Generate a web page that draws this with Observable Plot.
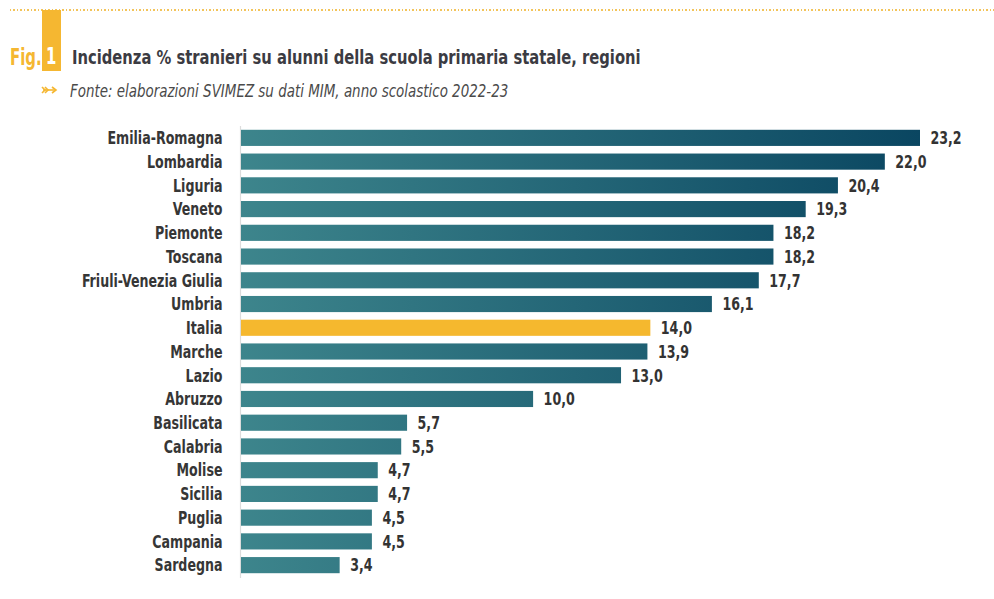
<!DOCTYPE html>
<html><head><meta charset="utf-8">
<script src="https://cdn.jsdelivr.net/npm/d3@7"></script>
<script src="https://cdn.jsdelivr.net/npm/@observablehq/plot@0.6"></script>
<style>
body{margin:0;background:#fff;width:994px;height:599px;overflow:hidden;font-family:"DejaVu Sans Condensed","DejaVu Sans",sans-serif;}
#header{position:relative;height:120px;}
.dots{position:absolute;left:10px;right:0;top:9px;height:2px;background-image:repeating-linear-gradient(to right,#f3c45a 0 1.5px,transparent 1.5px 3.5px);}
.sq{display:inline-block;transform-origin:left center;white-space:nowrap;}
.fig{position:absolute;left:10px;top:44px;font-size:23px;font-weight:bold;color:#f5b731;}
.fig .sq{transform:scaleX(0.72);}
.num{position:absolute;left:42px;top:10px;width:19px;height:61px;background:#f5b731;color:#fff;font-size:23px;font-weight:bold;text-align:center;line-height:23px;box-sizing:border-box;padding-top:35px;}
.num .sq{transform:scaleX(0.72);transform-origin:center;}
.title{position:absolute;left:72px;top:45px;font-size:20px;font-weight:bold;color:#3b3b42;}
.title .sq{transform:scaleX(0.82);}
.arrow{position:absolute;left:41px;top:85px;}
.sub{position:absolute;left:70px;top:80px;font-size:18px;font-style:italic;color:#4a4a4a;}
.sub .sq{transform:scaleX(0.83);}
#chart svg{display:block;}
</style></head><body>
<div id="header">
  <div class="dots"></div>
  <div class="fig"><span class="sq">Fig.</span></div>
  <div class="num"><span class="sq">1</span></div>
  <div class="title"><span class="sq">Incidenza % stranieri su alunni della scuola primaria statale, regioni</span></div>
  <svg class="arrow" width="18" height="10" viewBox="0 0 18 10"><g stroke="#f5b731" stroke-width="1.6" fill="none"><path d="M2 5H15"/><path d="M11 2L15 5L11 8"/><path d="M1 2L4 5L1 8"/><path d="M4 2L7 5L4 8"/></g></svg>
  <div class="sub"><span class="sq">Fonte: elaborazioni SVIMEZ su dati MIM, anno scolastico 2022-23</span></div>
</div>
<div id="chart"></div>
<script>
const regions = ["Emilia-Romagna","Lombardia","Liguria","Veneto","Piemonte","Toscana","Friuli-Venezia Giulia","Umbria","Italia","Marche","Lazio","Abruzzo","Basilicata","Calabria","Molise","Sicilia","Puglia","Campania","Sardegna"];
const values = [23.2,22.0,20.4,19.3,18.2,18.2,17.7,16.1,14.0,13.9,13.0,10.0,5.7,5.5,4.7,4.7,4.5,4.5,3.4];
const highlight = "Italia";

const data = regions.map((r,i)=>({region:r, value:values[i]}));
const fmt = v => d3.format(".1f")(v).replace(".", ",");
const font = '"DejaVu Sans Condensed","DejaVu Sans",sans-serif';

const gradientDefs = (index, scales) => {
  const x0 = scales.x(0), x1 = scales.x(d3.max(values));
  const defs = d3.create("svg:defs");
  const g = defs.append("linearGradient").attr("id","barGrad").attr("gradientUnits","userSpaceOnUse")
    .attr("x1",x0).attr("x2",x1).attr("y1",0).attr("y2",0);
  g.append("stop").attr("offset","0%").attr("stop-color","#3d858c");
  g.append("stop").attr("offset","100%").attr("stop-color","#0a4661");
  return defs.node();
};

const plot = Plot.plot({
  width: 994,
  height: 467,
  marginTop: 6,
  marginBottom: 10,
  marginLeft: 240,
  marginRight: 74,
  style: {fontFamily: font, background: "#fff"},
  x: {domain: [0, d3.max(values)], axis: null},
  y: {domain: regions, paddingInner: 0.32, paddingOuter: 0.16, round: false, label: null},
  marks: [
    gradientDefs,
    Plot.frame({anchor: "left", stroke: "#dcdcdc", strokeWidth: 1.2}),
    Plot.barX(data, {x: "value", y: "region", fill: d => d.region === highlight ? "#f5b82e" : "url(#barGrad)", insetLeft: 1}),
    Plot.text(data, {x: "value", y: "region", text: d => fmt(d.value), textAnchor: "start", dx: 10, fontSize: 18, fontWeight: "bold", fill: "#333"}),
    Plot.axisY({tickSize: 0, tickPadding: 18, fontSize: 18, fontWeight: "bold", color: "#363636", label: null})
  ]
});

// condense the text horizontally (the reference uses a condensed typeface)
d3.select(plot).selectAll("text").each(function() {
  const x = parseFloat(this.getAttribute("x")) || 0;
  this.removeAttribute("x");
  const t = this.getAttribute("transform") || "";
  this.setAttribute("transform", `${t} translate(${x},0) scale(0.78,1)`);
});
document.getElementById("chart").appendChild(plot);
</script>
</body></html>
